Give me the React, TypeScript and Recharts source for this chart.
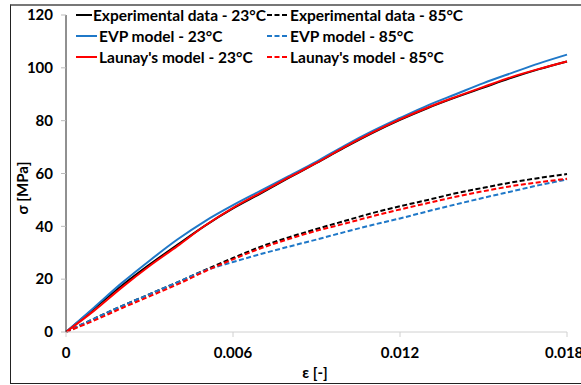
import React from "react";
import { LineChart, Line, XAxis, YAxis, Legend } from "recharts";

const strain = [0, 0.001, 0.002, 0.003, 0.004, 0.005, 0.006, 0.007, 0.008, 0.009, 0.01, 0.011, 0.012, 0.013, 0.014, 0.015, 0.016, 0.017, 0.018];
const exp23 = [0, 8.8, 17.5, 25.5, 33, 40.3, 46.8, 52.5, 58.3, 64, 69.8, 75.3, 80.3, 84.8, 88.8, 92.5, 96.2, 99.5, 102.4];
const evp23 = [0, 9.2, 18.5, 27, 35, 42, 48, 53.5, 59, 64.5, 70.5, 76, 81, 85.8, 90, 94.2, 98, 101.7, 105];
const launay23 = [0, 8, 16.8, 25, 32.5, 40.3, 47, 52.8, 58.5, 64, 70, 75.5, 80.5, 85, 89, 92.8, 96.5, 99.6, 102.4];
const exp85 = [0, 5, 9.8, 14.3, 18.8, 23.5, 28, 32.3, 35.8, 39, 42, 45, 47.6, 50, 52.5, 54.6, 56.6, 58.3, 59.8];
const evp85 = [0, 5, 9.8, 14.3, 18.8, 23.3, 26.5, 29.5, 32.3, 35, 37.8, 40.5, 43, 45.7, 48.3, 50.8, 53.2, 55.6, 57.8];
const launay85 = [0, 4.3, 9, 13.5, 18, 23, 27.5, 31.7, 35.2, 38.3, 41, 43.8, 46.4, 48.8, 51.2, 53.3, 55.2, 56.7, 58];

const xTicks = [0, 0.006, 0.012, 0.018];
const yTicks = [0, 20, 40, 60, 80, 100, 120];

const seriesNames = [
  "Experimental data - 23°C",
  "Experimental data - 85°C",
  "EVP model - 23°C",
  "EVP model - 85°C",
  "Launay's model - 23°C",
  "Launay's model - 85°C",
];

const data = strain.map((e, i) => ({
  e,
  exp23: exp23[i],
  evp23: evp23[i],
  launay23: launay23[i],
  exp85: exp85[i],
  evp85: evp85[i],
  launay85: launay85[i],
}));

const BLACK = "#000000";
const BLUE = "#1f78c8";
const RED = "#ff0000";
const FONT = "Lato, 'Open Sans', sans-serif";

const legendItems = [
  { name: seriesNames[0], color: BLACK, dashed: false },
  { name: seriesNames[1], color: BLACK, dashed: true },
  { name: seriesNames[2], color: BLUE, dashed: false },
  { name: seriesNames[3], color: BLUE, dashed: true },
  { name: seriesNames[4], color: RED, dashed: false },
  { name: seriesNames[5], color: RED, dashed: true },
];

const LegendContent = () => (
  <div style={{ display: "grid", gridTemplateColumns: "191px 220px", rowGap: 0, fontFamily: FONT, fontWeight: 700, fontSize: 15.5, color: "#000" }}>
    {legendItems.map((it) => (
      <div key={it.name} style={{ display: "flex", alignItems: "center", height: 21, whiteSpace: "nowrap" }}>
        <svg width={23} height={10} style={{ marginRight: 1 }}>
          <line x1={1} y1={5} x2={22} y2={5} stroke={it.color} strokeWidth={2} strokeDasharray={it.dashed ? "5 2.5" : undefined} />
        </svg>
        <span>{it.name}</span>
      </div>
    ))}
  </div>
);

const YTitle = () => {
  const x = 22;
  const y = 188;
  return (
    <text x={x} y={y} transform={`rotate(-90, ${x}, ${y})`} textAnchor="middle" dominantBaseline="central" fontFamily={FONT} fontWeight={700} fontSize={15} fill="#000">
      σ [MPa]
    </text>
  );
};

const XTitle = () => (
  <text x={315} y={378} textAnchor="middle" fontFamily={FONT} fontWeight={700} fontSize={15} fill="#000">
    ε [-]
  </text>
);

export default function App() {
  return (
    <div style={{ position: "fixed", left: 0, top: 0, width: 581, height: 385, overflow: "hidden", background: "#fff" }}>
      <div style={{ position: "absolute", left: 10, top: 4, width: 620, height: 377, borderLeft: "1.5px solid #222", borderBottom: "1.5px solid #222", borderTop: "2px solid #777" }} />
      <LineChart width={581} height={385} data={data} margin={{ top: 15, right: 14, bottom: 0, left: 10 }} style={{ position: "absolute", left: 0, top: 0 }}>
        <XAxis
          dataKey="e"
          type="number"
          domain={[0, 0.018]}
          ticks={xTicks}
          tickFormatter={(v: number) => String(v)}
          height={53}
          stroke="#d0d0d0"
          tick={{ fill: "#000", fontFamily: FONT, fontWeight: 700, fontSize: 15 }}
          tickSize={5}
          tickMargin={10}
          label={<XTitle />}
        />
        <YAxis
          type="number"
          domain={[0, 120]}
          ticks={yTicks}
          width={56}
          axisLine={{ stroke: "#222" }}
          tickLine={{ stroke: "#bbb" }}
          tick={{ fill: "#000", fontFamily: FONT, fontWeight: 700, fontSize: 15 }}
          tickSize={5}
          tickMargin={8}
          label={<YTitle />}
        />
        <Legend
          layout="vertical"
          align="center"
          verticalAlign="middle"
          content={<LegendContent />}
          wrapperStyle={{ top: 4, left: 75, width: 440, height: 66 }}
        />
        <Line type="monotone" dataKey="exp85" name={seriesNames[1]} stroke={BLACK} strokeWidth={2} strokeDasharray="5 2.5" dot={false} isAnimationActive={false} />
        <Line type="monotone" dataKey="evp85" name={seriesNames[3]} stroke={BLUE} strokeWidth={2} strokeDasharray="5 2.5" dot={false} isAnimationActive={false} />
        <Line type="monotone" dataKey="launay85" name={seriesNames[5]} stroke={RED} strokeWidth={2} strokeDasharray="5 2.5" dot={false} isAnimationActive={false} />
        <Line type="monotone" dataKey="exp23" name={seriesNames[0]} stroke={BLACK} strokeWidth={2} dot={false} isAnimationActive={false} />
        <Line type="monotone" dataKey="evp23" name={seriesNames[2]} stroke={BLUE} strokeWidth={2} dot={false} isAnimationActive={false} />
        <Line type="monotone" dataKey="launay23" name={seriesNames[4]} stroke={RED} strokeWidth={2} dot={false} isAnimationActive={false} />
      </LineChart>
    </div>
  );
}
